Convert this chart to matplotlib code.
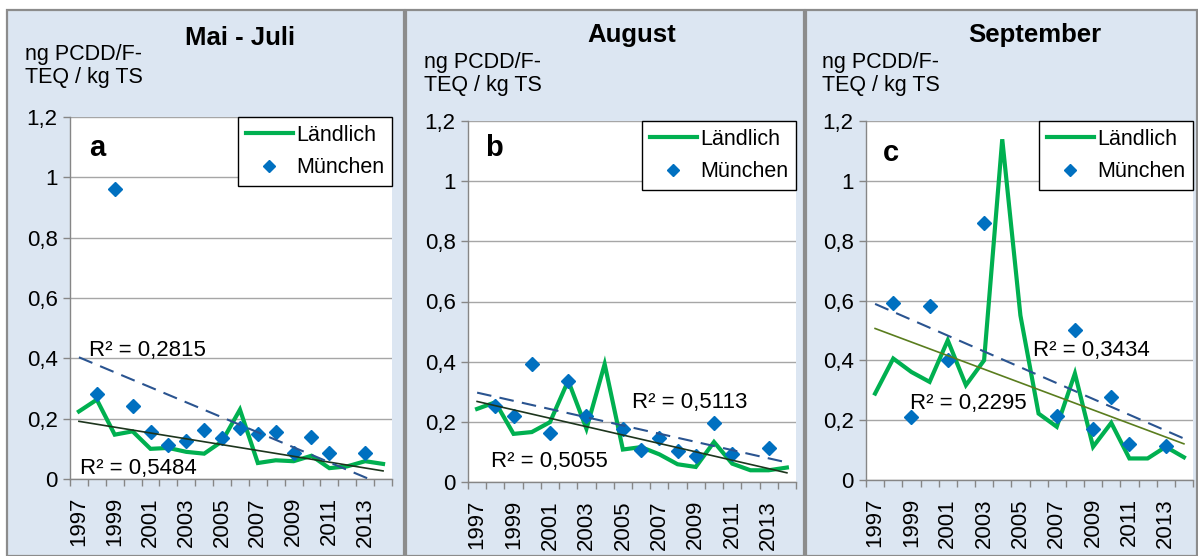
import numpy as np
import matplotlib
matplotlib.use("Agg")
import matplotlib.pyplot as plt
from matplotlib.patches import Rectangle
from matplotlib.ticker import FuncFormatter

plt.rcParams['font.family'] = ['Liberation Sans', 'DejaVu Sans']

# data
years = list(range(1997, 2015))
titles = ["Mai - Juli", "August", "September"]
letters = ["a", "b", "c"]

# Ländlich (line), one value per year 1997..2014
laendlich_a = [0.224, 0.263, 0.147, 0.158, 0.100, 0.103, 0.090, 0.084, 0.125, 0.230,
               0.053, 0.062, 0.059, 0.077, 0.036, 0.042, 0.059, 0.050]
laendlich_b = [0.243, 0.265, 0.160, 0.166, 0.199, 0.337, 0.177, 0.392, 0.108, 0.116,
               0.092, 0.059, 0.050, 0.133, 0.061, 0.039, 0.039, 0.048]
laendlich_c = [0.289, 0.406, 0.361, 0.328, 0.467, 0.317, 0.400, 1.139, 0.550, 0.222,
               0.178, 0.356, 0.111, 0.191, 0.072, 0.072, 0.111, 0.076]

# München (diamonds), None = no value
muenchen_a = [None, 0.282, 0.960, 0.241, 0.155, 0.112, 0.125, 0.161, 0.136, 0.169,
              0.150, 0.155, 0.086, 0.138, 0.086, None, 0.086, None]
muenchen_b = [None, 0.251, 0.221, 0.392, 0.162, 0.335, 0.221, None, 0.177, 0.105,
              0.147, 0.102, 0.087, 0.196, 0.094, None, 0.113, None]
muenchen_c = [None, 0.591, 0.211, 0.583, 0.400, None, 0.858, None, None, None,
              0.213, 0.502, 0.172, 0.276, 0.120, None, 0.113, None]

r2_muenchen = ["R² = 0,2815", "R² = 0,5113", "R² = 0,3434"]
r2_laendlich = ["R² = 0,5484", "R² = 0,5055", "R² = 0,2295"]

laendlich = [laendlich_a, laendlich_b, laendlich_c]
muenchen = [muenchen_a, muenchen_b, muenchen_c]

W, H = 1198, 556
fig = plt.figure(figsize=(W / 100, H / 100), dpi=100)
fig.patch.set_facecolor("white")

# panel boxes (pixels: left, right) and axes boxes (left, top, right, bottom)
panels = [(7, 404), (406, 804), (806, 1197)]
axboxes = [(70, 117, 392, 479), (468, 121, 796, 482), (866, 121, 1193, 480)]
title_x = [240, 632, 1035]
ylab_x = [25, 424, 822]
ylab_y = [44, 52, 52]
title_y = [38, 35, 35]
r2m_pos = [(0.059, 0.356), (0.50, 0.219), (0.51, 0.362)]
r2l_pos = [(0.031, 0.03), (0.07, 0.058), (0.135, 0.212)]
letter_pos = [(0.085, 0.914), (0.08, 0.925), (0.077, 0.91)]
trend_colors = ["#1d351d", "#1d351d", "#5a7d1e"]

bg = "#dce6f2"
for (x0, x1) in panels:
    fig.patches.append(Rectangle((x0 / W, 0), (x1 - x0) / W, (H - 10) / H,
                                 transform=fig.transFigure, facecolor=bg,
                                 edgecolor="#8c8c8c", linewidth=1.6, zorder=-5))

idx = np.arange(len(years))
for k in range(3):
    l, t, r, b = axboxes[k]
    ax = fig.add_axes([l / W, 1 - b / H, (r - l) / W, (b - t) / H])
    ax.set_facecolor("white")

    yl = np.array(laendlich[k], dtype=float)
    ym = np.array([np.nan if v is None else v for v in muenchen[k]], dtype=float)

    ax.plot(idx, yl, color="#00b050", lw=3.0, label="Ländlich", zorder=3,
            solid_joinstyle="miter")
    ax.plot(idx, ym, ls="none", marker="D", ms=7.5, color="#0070c0",
            label="München", zorder=4)

    # linear trends
    pl = np.polyfit(idx, yl, 1)
    mask = ~np.isnan(ym)
    pm = np.polyfit(idx[mask], ym[mask], 1)
    xs = np.array([0, len(years) - 1])
    ax.plot(xs, np.polyval(pl, xs), color=trend_colors[k], lw=1.2, zorder=5)
    ax.plot(xs, np.polyval(pm, xs), color="#2a5490", lw=1.5, ls=(0, (7, 4)), zorder=5)

    ax.set_xlim(-0.5, len(years) - 0.5)
    ax.set_ylim(0, 1.2)
    ax.set_yticks(np.arange(0, 1.21, 0.2))
    ax.yaxis.set_major_formatter(FuncFormatter(
        lambda v, p: "0" if abs(v) < 1e-9 else ("1" if abs(v - 1) < 1e-9 else f"{v:.1f}".replace(".", ","))))
    ax.grid(axis="y", color="#a6a6a6", lw=1.0)
    ax.set_axisbelow(True)

    ax.set_xticks(np.arange(-0.5, len(years), 1.0))
    ax.set_xticklabels([])
    ax.set_xticks(idx[::2], minor=True)
    ax.set_xticklabels([str(y) for y in years[::2]], minor=True, rotation=90)
    ax.tick_params(axis="x", which="major", length=5, color="#868686", width=1)
    ax.tick_params(axis="x", which="minor", length=0, pad=13, labelsize=16)
    ax.tick_params(axis="y", length=5, color="#868686", width=1, labelsize=16, pad=4)

    for s in ["top", "right"]:
        ax.spines[s].set_visible(False)
    for s in ["left", "bottom"]:
        ax.spines[s].set_color("#868686")
        ax.spines[s].set_linewidth(1.0)

    leg = ax.legend(loc="upper right", bbox_to_anchor=(1.0, 1.0), borderaxespad=0,
                    fancybox=False, framealpha=1, edgecolor="black", fontsize=15.5,
                    handlelength=2.2, handletextpad=0.15, borderpad=0.35,
                    labelspacing=0.55, markerscale=0.8)
    leg.get_frame().set_linewidth(1.0)

    ax.text(*r2m_pos[k], r2_muenchen[k], transform=ax.transAxes, fontsize=16,
            va="center", ha="left", zorder=6)
    ax.text(*r2l_pos[k], r2_laendlich[k], transform=ax.transAxes, fontsize=16,
            va="center", ha="left", zorder=6)
    ax.text(*letter_pos[k], letters[k], transform=ax.transAxes, fontsize=21,
            fontweight="bold", va="center", ha="center")

    fig.text(title_x[k] / W, 1 - title_y[k] / H, titles[k], fontsize=18.5,
             fontweight="bold", ha="center", va="center")
    fig.text(ylab_x[k] / W, 1 - ylab_y[k] / H, "ng PCDD/F-\nTEQ / kg TS",
             fontsize=15.5, ha="left", va="top", linespacing=1.15)

fig.savefig("out.png", dpi=100, facecolor="white")
